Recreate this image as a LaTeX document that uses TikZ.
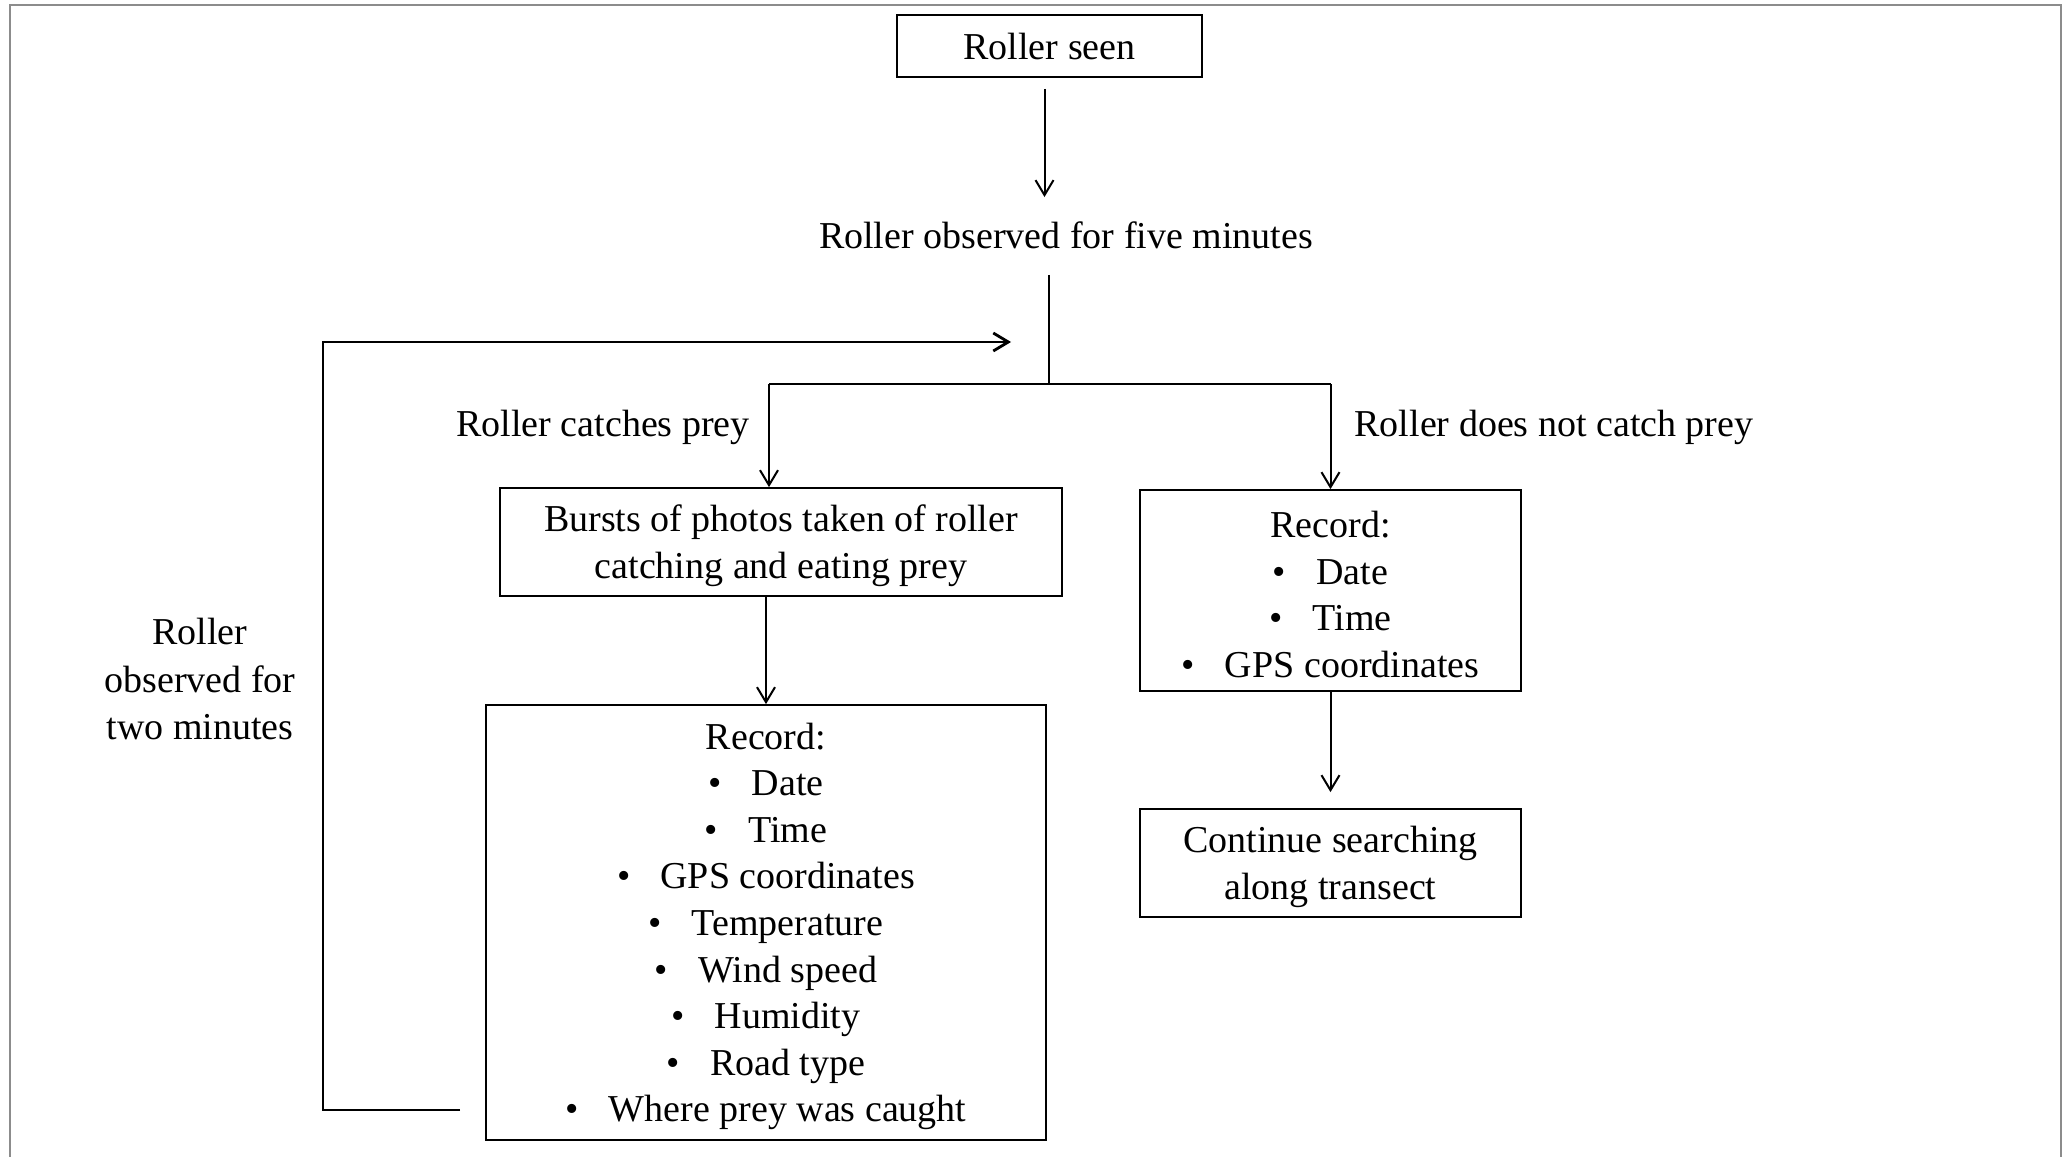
\documentclass[tikz,border=0pt]{standalone}
\usepackage{fontspec}
\setmainfont{Liberation Serif}
\usetikzlibrary{arrows.meta}
\newcommand{\firststrut}{\rule{0pt}{17pt}}
\begin{document}
\begin{tikzpicture}[x=0.5pt,y=-0.5pt,
  every node/.style={font=\fontsize{19pt}{23.3pt}\selectfont, align=center, inner sep=0pt},
  box/.style={draw, line width=0.9pt},
  arr/.style={line width=1pt, -{Straight Barb[length=7.5pt,width=9pt]}},
  heavyline/.style={line width=1.4pt},
  frame/.style={draw=gray!90, line width=0.8pt}]
\useasboundingbox (0,0) rectangle (2069,1157);
\draw[frame] (10,1157) -- (10,5) -- (2061,5) -- (2061,1157);

\node[box, minimum width=152.5pt, minimum height=31pt] (seen) at (1049.5,46) {Roller seen};
\node (obs) at (1066,235) {Roller observed for five minutes};
\node[box, minimum width=281pt, minimum height=54pt] (bursts) at (781,542) {\firststrut Bursts of photos taken of roller\\catching and eating prey};
\node[box, minimum width=280pt, minimum height=217.5pt] (recL) at (766,922.5) {\firststrut Record:\\
  \textbullet\hspace{15pt}Date\\
  \textbullet\hspace{15pt}Time\\
  \textbullet\hspace{15pt}GPS coordinates\\
  \textbullet\hspace{15pt}Temperature\\
  \textbullet\hspace{15pt}Wind speed\\
  \textbullet\hspace{15pt}Humidity\\
  \textbullet\hspace{15pt}Road type\\
  \textbullet\hspace{15pt}Where prey was caught};
\node[box, minimum width=190.5pt, minimum height=100.5pt] (recR) at (1330.5,590.5) {\firststrut Record:\\
  \textbullet\hspace{15pt}Date\\
  \textbullet\hspace{15pt}Time\\
  \textbullet\hspace{15pt}GPS coordinates};
\node[box, minimum width=190.5pt, minimum height=54pt] (cont) at (1330.5,863) {\firststrut Continue searching\\along transect};

\node (catch) at (603,427) {Roller catches prey};
\node (nocatch) at (1554,427) {Roller does not catch prey};
\node[font=\fontsize{19pt}{23.8pt}\selectfont] (two) at (200,679) {Roller\\observed for\\two minutes};

\coordinate (J) at (1049,384);
\coordinate (Jl) at (769,384);
\coordinate (lp1) at (460,1110);
\coordinate (lp2) at (323,1110);
\coordinate (lp3) at (323,342);
\coordinate (lp4) at (1011,342);

\draw[arr, shorten <=5.5pt, shorten >=12pt] ([xshift=-2.5pt]seen.south) -- ([xshift=-2.5pt]seen.south |- obs.north);
\draw[line width=1pt, shorten <=13pt] (J |- obs.south) -- (J);
\draw[heavyline] (Jl) -- (J -| recR.north);
\draw[arr] (Jl) -- (Jl |- bursts.north);
\draw[arr] (J -| recR.north) -- (recR.north);
\draw[arr] (recL.north |- bursts.south) -- (recL.north);
\draw[arr, shorten >=8pt] (recR.south) -- (cont.north);
\draw[heavyline, -{Straight Barb[length=7.5pt,width=9pt]}] (lp1) -- (lp2) -- (lp3) -- (lp4);
\end{tikzpicture}
\end{document}
